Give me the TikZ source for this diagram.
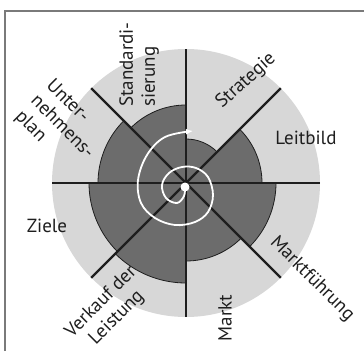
\documentclass[tikz,border=0pt]{standalone}
\usepackage{fontspec}
\setmainfont{PT Sans}
\usetikzlibrary{arrows.meta}
\definecolor{disc}{HTML}{D7D7D7}
\definecolor{core}{HTML}{6C6C6C}
\definecolor{ink}{HTML}{1E1E1E}
\definecolor{rim}{HTML}{7A7A7A}

\begin{document}
\begin{tikzpicture}[
  x=1pt, y=-1pt,
  lbl/.style={font=\fontsize{19}{22}\selectfont, text=ink, inner sep=0pt},
  spk/.style={draw=ink, line width=2.2pt},
  sct/.style={fill=core, draw=ink, line width=0.8pt},
  spr/.style={draw=white, line width=1.8pt, -{Latex[length=7pt,width=6pt]}}
]
\useasboundingbox (0,0) rectangle (364,351);
\draw[rim, line width=1.4pt] (5,351) |- (364,11);

% =============== disc and sectors ===============
\coordinate (c) at (186,183);
\fill[disc] (c) circle[radius=134pt];

% start angle / end angle / radius of each dark sector
\foreach \s/\e/\r in {45/90/44pt, 0/45/76pt, -45/0/90pt, -90/-45/78pt,
                      -135/-90/100pt, -180/-135/97pt, 135/180/88pt, 90/135/78pt}
  \draw[sct] (c) -- ++(\s:\r) arc[start angle=\s, end angle=\e, radius=\r] -- cycle;

\foreach \a in {0,45,...,315}
  \draw[spk] (c) -- ++(\a:134pt);

% =============== spiral ===============
\coordinate (sp0) at (185,187);
\fill[white] (sp0) circle[radius=4.5pt];
\draw[spr] plot[smooth, tension=0.6] coordinates {
  (185,187) (184,196) (177,203) (166,198) (162,185) (169,173) (182,167)
  (196,168) (208,177) (213,195) (208,212) (195,222) (175,225) (155,218)
  (141,203) (138,180) (147,155) (165,137) (193,131)};

% =============== labels ===============
\node[lbl, rotate=90, align=left, anchor=west] (std) at (139,107) {Standardi-\\sierung};
\node[lbl, rotate=42] (str) at (246,81) {Strategie};
\node[lbl] (ltb) at (306,138) {Leitbild};
\node[lbl, rotate=-45, align=left] (unp) at (62,127) {Unter-\\nehmens-\\plan};
\node[lbl] (zie) at (47,226) {Ziele};
\node[lbl, rotate=45, align=center] (vkf) at (109,310) {Verkauf der\\Leistung};
\node[lbl, rotate=90] (mkt) at (225,318) {Markt};
\node[lbl, rotate=-45] (mfg) at (312,279) {Marktführung};
\end{tikzpicture}
\end{document}
